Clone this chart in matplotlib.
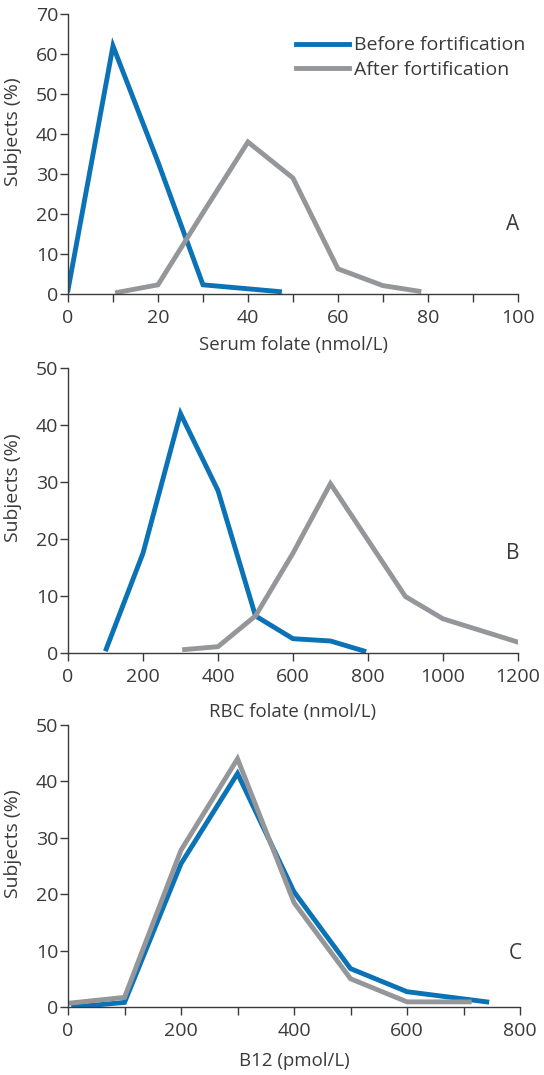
import matplotlib.pyplot as plt
import numpy as np

plt.rcParams['font.family'] = ['Open Sans', 'DejaVu Sans']

BLUE = '#0b72b5'
GREY = '#95969a'
INK = '#3a3a3a'

# Panel A - serum folate
a_before_x = [0, 10, 20, 30, 47]
a_before_y = [1, 62, 33, 2.3, 0.6]
a_after_x = [11, 20, 30, 40, 50, 60, 70, 78]
a_after_y = [0.4, 2.3, 20.3, 38, 29, 6.3, 2.1, 0.7]

# Panel B - RBC folate
b_before_x = [102, 200, 300, 400, 500, 600, 700, 789]
b_before_y = [0.7, 17.5, 42, 28.5, 6.5, 2.5, 2.1, 0.35]
b_after_x = [311, 400, 500, 600, 700, 800, 900, 1000, 1200]
b_after_y = [0.6, 1.1, 6.5, 17.5, 29.7, 19.8, 9.9, 6.0, 1.9]

# Panel C - B12
c_before_x = [10, 100, 200, 300, 400, 500, 600, 741]
c_before_y = [0.0, 0.8, 25.4, 41.4, 20.4, 6.8, 2.7, 0.9]
c_after_x = [5, 100, 200, 300, 400, 500, 600, 710]
c_after_y = [0.7, 1.7, 27.8, 44, 18.5, 5.0, 0.9, 0.9]

fig = plt.figure(figsize=(5.44, 10.75), dpi=100)

def style(ax, xmax, xstep, xlab_step, ymax, xlabel, xlab_y, letter, letter_y):
    for s in ['top', 'right']:
        ax.spines[s].set_visible(False)
    for s in ['left', 'bottom']:
        ax.spines[s].set_color(INK)
        ax.spines[s].set_linewidth(1.0)
    ax.set_xlim(0, xmax)
    ax.set_ylim(0, ymax)
    ticks = np.arange(0, xmax + 1, xstep)
    ax.set_xticks(ticks)
    ax.set_xticklabels([str(int(t)) if t % xlab_step == 0 else '' for t in ticks])
    ax.set_yticks(np.arange(0, ymax + 1, 10))
    ax.tick_params(direction='out', length=5.5, width=1.0, color=INK,
                   labelsize=14, labelcolor=INK)
    ax.tick_params(axis='x', pad=5)
    ax.tick_params(axis='y', pad=1.5)
    ax.set_xlabel(xlabel, fontsize=13.4, color=INK)
    ax.xaxis.set_label_coords(0.5, xlab_y)
    ax.xaxis.label.set_va('center')
    ax.set_ylabel('Subjects (%)', fontsize=14, color=INK)
    ax.yaxis.set_label_coords(-0.102, 0.58)
    ax.text(1.004, letter_y, letter, transform=ax.transAxes, fontsize=15,
            color=INK, ha='right', va='baseline')
    for t in ax.get_xticklabels() + ax.get_yticklabels():
        t.set_clip_on(False)

axA = fig.add_axes([0.125, 0.7265, 0.827, 0.2605])
axA.plot(a_before_x, a_before_y, color=BLUE, lw=3.5, label='Before fortification', solid_joinstyle='miter')
axA.plot(a_after_x, a_after_y, color=GREY, lw=3.5, label='After fortification', solid_joinstyle='miter')
style(axA, 100, 10, 20, 70, 'Serum folate (nmol/L)', -0.182, 'A', 0.229)
axA.legend(loc='upper left', bbox_to_anchor=(0.507, 0.92), frameon=False, fontsize=14,
           handlelength=2.7, handletextpad=0.3, labelspacing=0.35, borderpad=0,
           borderaxespad=0, labelcolor=INK)

axB = fig.add_axes([0.125, 0.3926, 0.827, 0.2651])
axB.plot(b_before_x, b_before_y, color=BLUE, lw=3.5, solid_joinstyle='miter')
axB.plot(b_after_x, b_after_y, color=GREY, lw=3.5, solid_joinstyle='miter')
style(axB, 1200, 200, 200, 50, 'RBC folate (nmol/L)', -0.207, 'B', 0.33)

axC = fig.add_axes([0.125, 0.0633, 0.831, 0.2623])
axC.plot(c_before_x, c_before_y, color=BLUE, lw=3.5, solid_joinstyle='miter')
axC.plot(c_after_x, c_after_y, color=GREY, lw=3.5, solid_joinstyle='miter')
style(axC, 800, 100, 200, 50, 'B12 (pmol/L)', -0.191, 'C', 0.17)

fig.savefig('out.png', dpi=100)
